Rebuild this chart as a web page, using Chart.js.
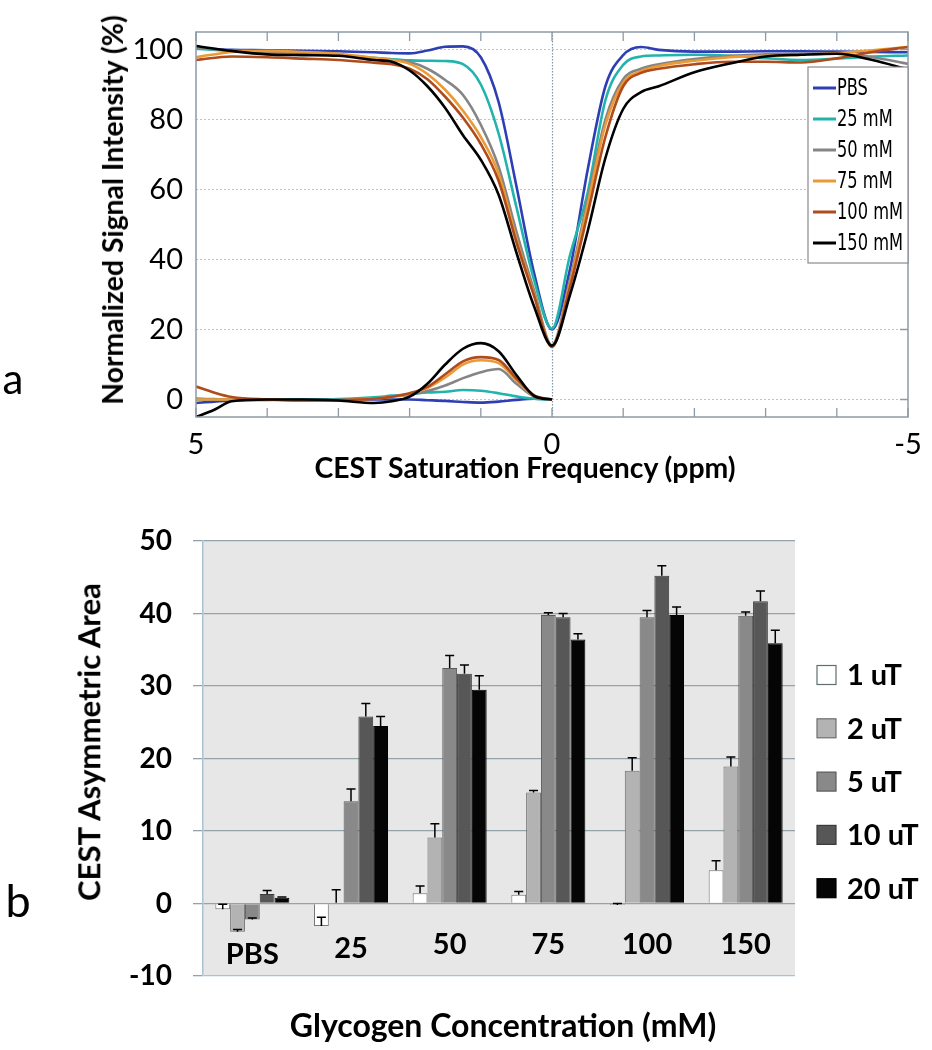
<!DOCTYPE html>
<html><head><meta charset="utf-8">
<script src="https://cdn.jsdelivr.net/npm/chart.js@4.4.0/dist/chart.umd.min.js"></script>
<style>
html,body{margin:0;padding:0;background:#fff;}
body{width:932px;height:1050px;position:relative;overflow:hidden;font-family:Lato,sans-serif;}
.box{position:absolute;left:0;width:932px;}
#wa{top:0;height:490px;}
#wb{top:490px;height:560px;}
.t{position:absolute;white-space:nowrap;font-weight:bold;color:#000;line-height:1.2;transform:translate(-50%,-50%);font-family:Lato,sans-serif;}
.r{transform:translate(-50%,-50%) rotate(-90deg);}
.p{position:absolute;font-family:Lato,sans-serif;font-weight:normal;color:#000;line-height:1.2;transform:translate(-50%,-50%);}
</style></head><body>
<div class="box" id="wa"><canvas id="ca"></canvas></div>
<div class="box" id="wb"><canvas id="cb"></canvas></div>
<div class="t r" id="ya" style="left:112px;top:210px">Normalized Signal Intensity (%)</div>
<div class="t" id="xa" style="left:525px;top:467px">CEST Saturation Frequency (ppm)</div>
<div class="t r" id="yb" style="left:89px;top:742px">CEST Asymmetric Area</div>
<div class="t" id="xb" style="left:503px;top:1025px">Glycogen Concentration (mM)</div>
<div class="p" style="left:13px;top:378px;font-size:42px">a</div>
<div class="p" style="left:18px;top:900px;font-size:45px">b</div>
<script>
// ---------- Panel a data ----------
const SERIES_A = ['PBS', '25 mM', '50 mM', '75 mM', '100 mM', '150 mM'];
const PPM = [5, 4.5, 4, 3.5, 3, 2.5, 2.25, 2, 1.75, 1.5, 1.25, 1, 0.75, 0.5, 0.25, 0, -0.25, -0.5, -0.75, -1, -1.25, -1.5, -2, -2.5, -3, -3.5, -4, -4.5, -5];
const Z_PBS = [100.4, 99.9, 99.8, 99.6, 99.5, 99.2, 99.0, 98.9, 99.7, 100.8, 100.9, 97.8, 85.0, 61.0, 36.0, 20.0, 37.0, 65.5, 89.5, 98.4, 100.7, 99.9, 99.4, 99.4, 99.5, 99.5, 99.4, 99.3, 99.2];
const Z_25  = [100.2, 99.6, 99.4, 99.0, 98.4, 97.6, 97.2, 96.9, 96.8, 96.7, 95.8, 90.0, 76.0, 55.0, 34.0, 20.2, 41.0, 59.0, 85.5, 95.6, 98.0, 98.3, 98.5, 98.2, 97.5, 97.0, 97.4, 98.0, 98.3];
const Z_50  = [100.5, 99.7, 99.4, 99.0, 98.4, 97.4, 97.0, 96.4, 94.5, 91.3, 87.0, 78.5, 66.5, 48.0, 31.0, 15.5, 34.0, 57.0, 80.0, 91.5, 94.5, 95.8, 97.3, 98.2, 98.6, 98.8, 98.8, 97.8, 95.9];
const Z_75  = [97.8, 99.3, 99.6, 99.3, 98.8, 97.6, 97.0, 95.9, 93.0, 88.5, 82.5, 75.0, 64.5, 46.0, 30.0, 15.0, 33.0, 55.5, 78.5, 90.5, 93.8, 95.3, 96.8, 97.8, 98.2, 98.5, 99.0, 99.8, 100.7];
const Z_100 = [97.0, 98.0, 97.8, 97.4, 97.0, 96.2, 95.8, 94.5, 91.5, 86.5, 80.5, 73.0, 62.5, 45.0, 29.5, 15.0, 32.0, 53.0, 75.0, 89.5, 93.3, 94.5, 95.8, 96.5, 96.5, 96.3, 97.5, 99.3, 100.7];
const Z_150 = [101.0, 99.6, 98.6, 98.4, 98.2, 97.0, 96.5, 94.0, 89.5, 83.3, 75.5, 68.5, 58.5, 42.0, 26.5, 15.4, 29.7, 48.0, 69.0, 83.0, 87.8, 89.5, 93.5, 96.0, 98.0, 98.5, 98.8, 97.0, 94.3];
const A_PPM = [5, 4.75, 4.5, 4, 3.5, 3, 2.5, 2.25, 2, 1.75, 1.5, 1.25, 1, 0.75, 0.5, 0.25, 0];
const A_PBS = [-1.0, -0.6, -0.3, -0.1, 0.0, 0.0, 0.0, 0.0, 0.0, -0.2, -0.4, -0.7, -0.9, -0.6, -0.1, 0.2, 0.0];
const A_25  = [0.0, 0.0, 0.0, 0.0, 0.0, 0.1, 0.6, 1.1, 1.5, 2.0, 2.2, 2.7, 2.5, 1.8, 0.9, 0.2, 0.0];
const A_50  = [0.3, 0.1, 0.0, 0.0, -0.2, -0.1, 0.2, 0.8, 1.4, 2.4, 4.0, 6.1, 7.8, 8.7, 4.5, 0.8, 0.0];
const A_75  = [0.0, 0.0, 0.0, 0.0, -0.3, -0.2, 0.3, 0.8, 1.6, 3.3, 6.3, 10.0, 11.2, 10.4, 5.5, 1.0, 0.0];
const A_100 = [3.7, 2.0, 0.7, 0.0, -0.3, -0.2, 0.2, 0.8, 1.8, 3.6, 7.2, 10.9, 12.1, 11.3, 6.0, 1.2, 0.0];
const A_150 = [-5.0, -3.0, -0.5, 0.0, 0.0, -0.3, -1.0, -0.5, 0.8, 4.5, 10.0, 14.5, 16.1, 13.8, 7.0, 1.0, 0.0];
const Y_TICKS_A = [0, 20, 40, 60, 80, 100];
const X_LABELS_A = [5, 0, -5];
const X_MINOR_A = [5, 4, 3, 2, 1, 0, -1, -2, -3, -4, -5];

// ---------- Panel b data ----------
const CATS = ['PBS', '25', '50', '75', '100', '150'];
const FIELDS = ['1 uT', '2 uT', '5 uT', '10 uT', '20 uT'];
const V_1  = [-0.8, -3.1, 1.4, 1.2, -0.2, 4.6];
const V_2  = [-3.9, 0.1, 9.1, 15.3, 18.3, 18.9];
const V_5  = [-2.2, 14.1, 32.5, 39.8, 39.5, 39.7];
const V_10 = [1.3, 25.8, 31.7, 39.5, 45.2, 41.7];
const V_20 = [0.8, 24.5, 29.5, 36.4, 39.8, 35.9];
const E_1  = [0.7, 1.2, 1.0, 0.45, 0.2, 1.3];
const E_2  = [0.3, 1.8, 1.9, 0.3, 1.8, 1.3];
const E_5  = [0.2, 1.7, 1.7, 0.3, 0.9, 0.5];
const E_10 = [0.5, 1.8, 1.2, 0.5, 1.4, 1.4];
const E_20 = [0.1, 1.3, 1.9, 0.8, 1.1, 1.8];
const Y_TICKS_B = [-10, 0, 10, 20, 30, 40, 50];

// ---------- text sizing ----------
function fit(id, w) {
  const el = document.getElementById(id);
  el.style.fontSize = '30px';
  const cur = el.offsetWidth;
  el.style.fontSize = (30 * w / cur) + 'px';
}
fit('ya', 390); fit('xa', 421); fit('yb', 318); fit('xb', 427);

Chart.defaults.font.family = 'Lato, sans-serif';
Chart.defaults.color = '#000';

// ---------- Panel a ----------
const COLORS_A = ['#2e3fb3', '#22b3ad', '#858585', '#eb9a35', '#b04c1c', '#000000'];
const ZS = [Z_PBS, Z_25, Z_50, Z_75, Z_100, Z_150];
const AS = [A_PBS, A_25, A_50, A_75, A_100, A_150];
const dsA = [];
SERIES_A.forEach((name, i) => {
  dsA.push({ label: name, data: PPM.map((p, k) => ({ x: p, y: ZS[i][k] })), borderColor: COLORS_A[i], order: 10 - i });
  dsA.push({ label: name + ' asym', data: A_PPM.map((p, k) => ({ x: p, y: AS[i][k] })), borderColor: COLORS_A[i], order: 10 - i });
});

const frameA = {
  id: 'frameA',
  beforeDatasetsDraw(chart) {
    const { ctx, chartArea: a, scales: { x } } = chart;
    ctx.save();
    ctx.strokeStyle = '#7d98ad';
    ctx.lineWidth = 1.2;
    ctx.setLineDash([1.5, 1.5]);
    const x0 = Math.round(x.getPixelForValue(0)) + 0.5;
    ctx.beginPath(); ctx.moveTo(x0, a.top); ctx.lineTo(x0, a.bottom); ctx.stroke();
    ctx.restore();
  },
  afterDatasetsDraw(chart) {
    const { ctx, chartArea: a, scales: { x, y } } = chart;
    ctx.save();
    ctx.strokeStyle = '#8d9ba6';
    ctx.lineWidth = 1.5;
    ctx.strokeRect(a.left, a.top, a.right - a.left, a.bottom - a.top);
    ctx.lineWidth = 1.3;
    ctx.beginPath();
    X_MINOR_A.forEach(v => {
      const px = x.getPixelForValue(v);
      ctx.moveTo(px, a.top); ctx.lineTo(px, a.top + 9);
      ctx.moveTo(px, a.bottom); ctx.lineTo(px, a.bottom - 9);
    });
    Y_TICKS_A.forEach(v => {
      const py = y.getPixelForValue(v);
      ctx.moveTo(a.right, py); ctx.lineTo(a.right - 8, py);
    });
    ctx.stroke();
    // legend
    const lx = a.right - 100, ly = a.top + 35, lw = 100, lh = 196;
    ctx.fillStyle = '#fff';
    ctx.fillRect(lx, ly, lw, lh);
    ctx.strokeStyle = '#8a8a8a';
    ctx.lineWidth = 1.2;
    ctx.strokeRect(lx, ly, lw, lh);
    ctx.font = '23px "Liberation Sans Narrow", "DejaVu Sans Condensed", "Arial Narrow", sans-serif';
    ctx.textBaseline = 'middle';
    ctx.textAlign = 'left';
    const widest = Math.max(...SERIES_A.map(n => ctx.measureText(n).width));
    const sx = Math.min(1, 66 / widest);
    SERIES_A.forEach((name, i) => {
      const cy = ly + 21 + i * 31;
      ctx.strokeStyle = COLORS_A[i];
      ctx.lineWidth = 3;
      ctx.beginPath(); ctx.moveTo(lx + 5, cy); ctx.lineTo(lx + 28, cy); ctx.stroke();
      ctx.fillStyle = '#000';
      ctx.save();
      ctx.translate(lx + 29, cy + 1);
      ctx.scale(sx, 1);
      ctx.fillText(name, 0, 0);
      ctx.restore();
    });
    ctx.restore();
  }
};

new Chart(document.getElementById('ca'), {
  type: 'line',
  data: { datasets: dsA },
  options: {
    responsive: true, maintainAspectRatio: false, animation: false,
    layout: { padding: { top: 32, right: 24, left: 0, bottom: 0 } },
    plugins: { legend: { display: false }, tooltip: { enabled: false } },
    elements: { point: { radius: 0 }, line: { borderWidth: 2.6, cubicInterpolationMode: 'monotone', fill: false } },
    scales: {
      x: {
        type: 'linear', min: -5, max: 5, reverse: true,
        afterBuildTicks: s => { s.ticks = X_LABELS_A.map(v => ({ value: v })); },
        afterFit: s => { s.height = 73; },
        grid: { display: false, drawTicks: false }, border: { display: false },
        ticks: { font: { size: 29 }, color: '#000', padding: 10, maxRotation: 0, autoSkip: false, callback: v => String(v) }
      },
      y: {
        min: -5, max: 105,
        afterBuildTicks: s => { s.ticks = Y_TICKS_A.map(v => ({ value: v })); },
        afterFit: s => { s.width = 196; },
        grid: { color: '#b3c6d3', lineWidth: 1, drawTicks: false },
        border: { display: false, dash: [2, 2] },
        ticks: { font: { size: 29 }, color: '#000', padding: 13 }
      }
    }
  },
  plugins: [frameA]
});

// ---------- Panel b ----------
const VALS = [V_1, V_2, V_5, V_10, V_20];
const ERRS = [E_1, E_2, E_5, E_10, E_20];
const FILL_B = ['#ffffff', '#b3b3b3', '#898989', '#575757', '#050505'];
const EDGE_B = ['#777777', '#6e6e6e', '#5a5a5a', '#3a3a3a', '#000000'];
const dsB = FIELDS.map((f, i) => ({
  label: f, data: VALS[i], backgroundColor: FILL_B[i], borderColor: EDGE_B[i], borderWidth: 1
}));

const bgB = {
  id: 'bgB',
  beforeDraw(chart) {
    const { ctx, chartArea: a } = chart;
    ctx.save();
    ctx.fillStyle = '#e7e7e7';
    ctx.fillRect(a.left, a.top, a.right - a.left, a.bottom - a.top);
    ctx.restore();
  },
  afterDatasetsDraw(chart) {
    const { ctx, chartArea: a, scales: { x, y } } = chart;
    ctx.save();
    // error bars
    ctx.strokeStyle = '#000';
    ctx.lineWidth = 1.5;
    chart.data.datasets.forEach((ds, i) => {
      const meta = chart.getDatasetMeta(i);
      meta.data.forEach((el, j) => {
        const v = VALS[i][j], e = ERRS[i][j];
        const y0 = y.getPixelForValue(v), y1 = y.getPixelForValue(v + e);
        ctx.beginPath();
        ctx.moveTo(el.x, y0); ctx.lineTo(el.x, y1);
        ctx.moveTo(el.x - 4.5, y1); ctx.lineTo(el.x + 4.5, y1);
        ctx.stroke();
      });
    });
    // category labels
    ctx.font = 'bold 29px Lato, sans-serif';
    ctx.textAlign = 'center';
    ctx.textBaseline = 'middle';
    ctx.fillStyle = '#000';
    const z = y.getPixelForValue(0);
    CATS.forEach((c, j) => {
      const low = Math.min(0, ...VALS.map(s => s[j]));
      const ly = Math.max(z + 41, y.getPixelForValue(low) + 23);
      ctx.fillText(c, x.getPixelForValue(j), ly);
    });
    // legend
    ctx.textAlign = 'left';
    FIELDS.forEach((f, i) => {
      const cy = a.top + 134 + i * 53.3;
      const sx = a.right + 22;
      ctx.fillStyle = FILL_B[i];
      ctx.fillRect(sx, cy - 9.5, 19, 19);
      ctx.strokeStyle = i === 0 ? '#5f6f6f' : EDGE_B[i];
      ctx.lineWidth = 1.2;
      ctx.strokeRect(sx, cy - 9.5, 19, 19);
      ctx.fillStyle = '#000';
      ctx.fillText(f, sx + 30, cy + 1);
    });
    ctx.restore();
  }
};

new Chart(document.getElementById('cb'), {
  type: 'bar',
  data: { labels: CATS, datasets: dsB },
  options: {
    responsive: true, maintainAspectRatio: false, animation: false,
    layout: { padding: { top: 51, right: 137, left: 0, bottom: 0 } },
    plugins: { legend: { display: false }, tooltip: { enabled: false } },
    datasets: { bar: { categoryPercentage: 0.75, barPercentage: 1.0 } },
    scales: {
      x: {
        grid: { display: false, drawTicks: false }, border: { display: false },
        ticks: { display: false },
        afterFit: s => { s.height = 74; }
      },
      y: {
        min: -10, max: 50,
        afterBuildTicks: s => { s.ticks = Y_TICKS_B.map(v => ({ value: v })); },
        afterFit: s => { s.width = 203; },
        grid: { color: c => (c.tick && c.tick.value === -10) ? '#a9c3d2' : '#94a3aa', lineWidth: 1.3, drawTicks: true, tickLength: 10, tickColor: '#94a3aa' },
        border: { display: true, color: '#a9c3d2', width: 1.5 },
        ticks: { font: { size: 28, weight: 'bold' }, color: '#000', padding: 21 }
      }
    }
  },
  plugins: [bgB]
});
</script>
</body></html>
